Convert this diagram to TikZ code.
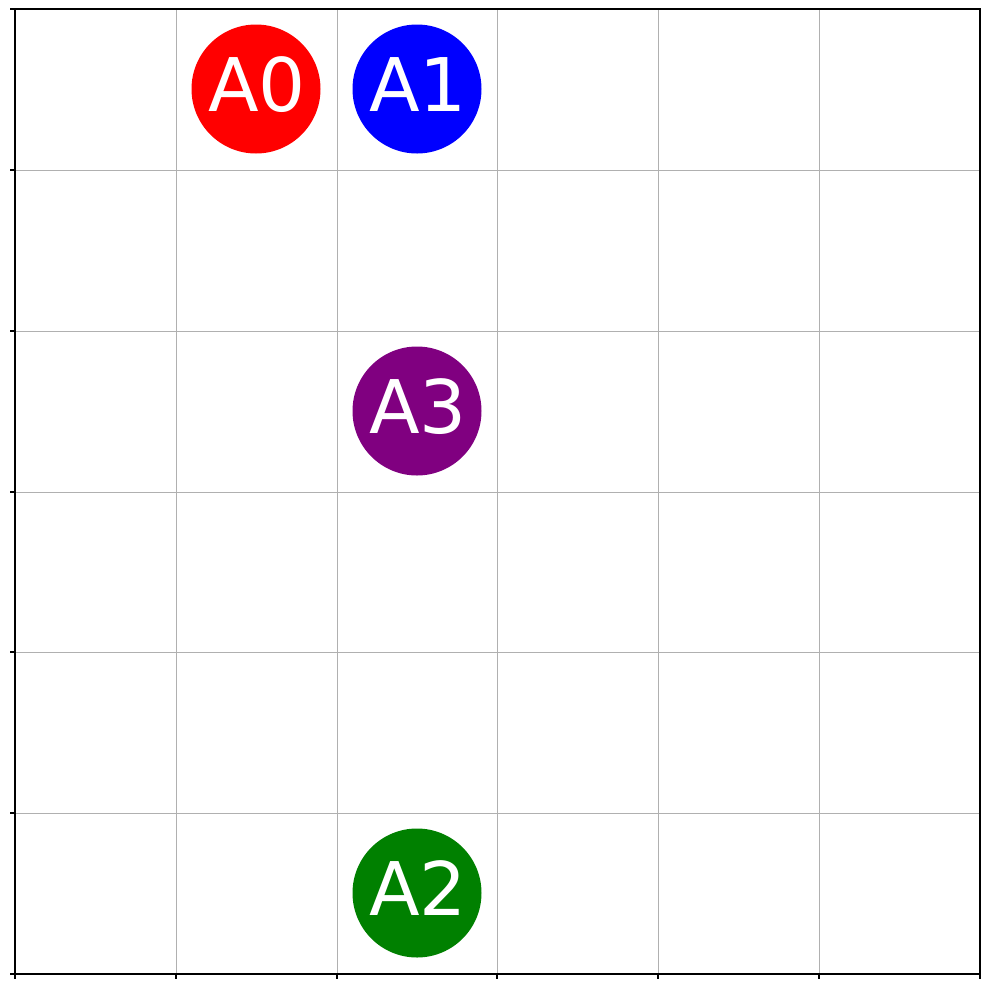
\documentclass[tikz,border=0pt]{standalone}
\usepackage{fontspec}
\setmainfont{DejaVu Sans}
\definecolor{gridgray}{HTML}{B0B0B0}
\definecolor{mplgreen}{HTML}{008000}
\definecolor{mplpurple}{HTML}{800080}
\begin{document}
\begin{tikzpicture}[x=1pt,y=-1pt,
  gridline/.style={draw=gridgray,line width=1pt},
  spine/.style={draw=black,line width=1.5pt},
  tickmark/.style={draw=black,line width=1.5pt},
  agent/.style={circle,minimum size=129pt,inner sep=0pt},
  lbl/.style={text=white,font=\fontsize{74}{74}\selectfont,anchor=base,inner sep=0pt}]
\useasboundingbox (0,0) rectangle (989,989);
\fill[white] (0,0) rectangle (989,989);
% grid
\foreach \x in {176,337,497,658,819} \draw[gridline] (\x,9) -- (\x,974);
\foreach \y in {170,331,492,652,813} \draw[gridline] (15,\y) -- (980,\y);
% ticks
\foreach \y in {9,170,331,492,652,813,974} \draw[tickmark] (10,\y) -- (15,\y);
\foreach \x in {15,176,337,497,658,819,980} \draw[tickmark] (\x,974) -- (\x,979);
% spines
\draw[spine] (15,9) rectangle (980,974);
% agents
\node[agent,fill=red] (a0) at (256,89) {};
\node[agent,fill=blue] (a1) at (417,89) {};
\node[agent,fill=mplpurple] (a3) at (417,411) {};
\node[agent,fill=mplgreen] (a2) at (417,893) {};
\node[lbl] (t0) at (257,111) {A0};
\node[lbl] (t1) at (418,111) {A1};
\node[lbl] (t3) at (418,433) {A3};
\node[lbl] (t2) at (418,915) {A2};
\end{tikzpicture}
\end{document}
